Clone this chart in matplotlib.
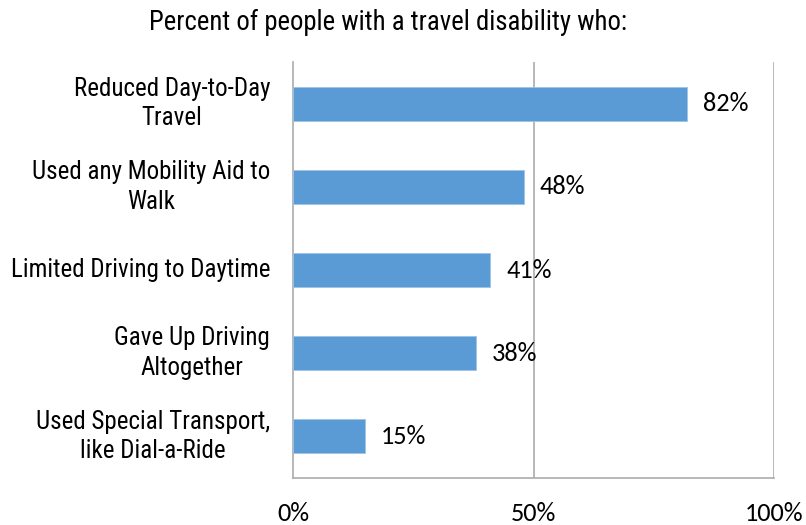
import matplotlib
matplotlib.use("Agg")
import matplotlib.pyplot as plt

categories = [
    "Reduced Day-to-Day\nTravel",
    "Used any Mobility Aid to\nWalk",
    "Limited Driving to Daytime",
    "Gave Up Driving\nAltogether",
    "Used Special Transport,\nlike Dial-a-Ride",
]
values = [82, 48, 41, 38, 15]
xticks = [0, 50, 100]
xtick_labels = ["0%", "50%", "100%"]
title = "Percent of people with a travel disability who:"

narrow = ["Roboto Condensed", "Archivo Narrow", "Liberation Sans"]
num_font = ["Carlito", "Open Sans"]

fig = plt.figure(figsize=(8.06, 5.25), dpi=100)
ax = fig.add_axes([293 / 806, 47 / 525, 481 / 806, 416 / 525])

pos = list(range(len(categories)))
ax.barh(pos, values, height=0.41, color="#5B9BD5", edgecolor="#9DC3E6",
        linewidth=0.6, zorder=3)
ax.set_ylim(len(categories) - 0.5, -0.5)
ax.set_xlim(0, 100)

for v in xticks[1:]:
    ax.axvline(v, color="#ABABAB", linewidth=1.2, zorder=1)

for p, v in zip(pos, values):
    ax.text(v + 3.3, p, f"{v}%", va="center", ha="left", fontsize=19,
            family=num_font, color="#000000", zorder=4)

ax.set_yticks(pos)
ax.set_yticklabels(categories, family=narrow, fontsize=18,
                   multialignment="center", linespacing=1.3, va="center")
ax.set_xticks(xticks)
ax.set_xticklabels(xtick_labels, family=num_font, fontsize=19)
ax.tick_params(axis="both", length=0)
ax.tick_params(axis="y", pad=16.5)
ax.tick_params(axis="x", pad=17)

for s in ["top", "right"]:
    ax.spines[s].set_visible(False)
for s in ["left", "bottom"]:
    ax.spines[s].set_color("#ABABAB")
    ax.spines[s].set_linewidth(1.2)

fig.text(388 / 806, 1 - 22 / 525, title, ha="center", va="center",
         family=narrow, fontsize=19.3)

fig.savefig("out.png", dpi=100)
